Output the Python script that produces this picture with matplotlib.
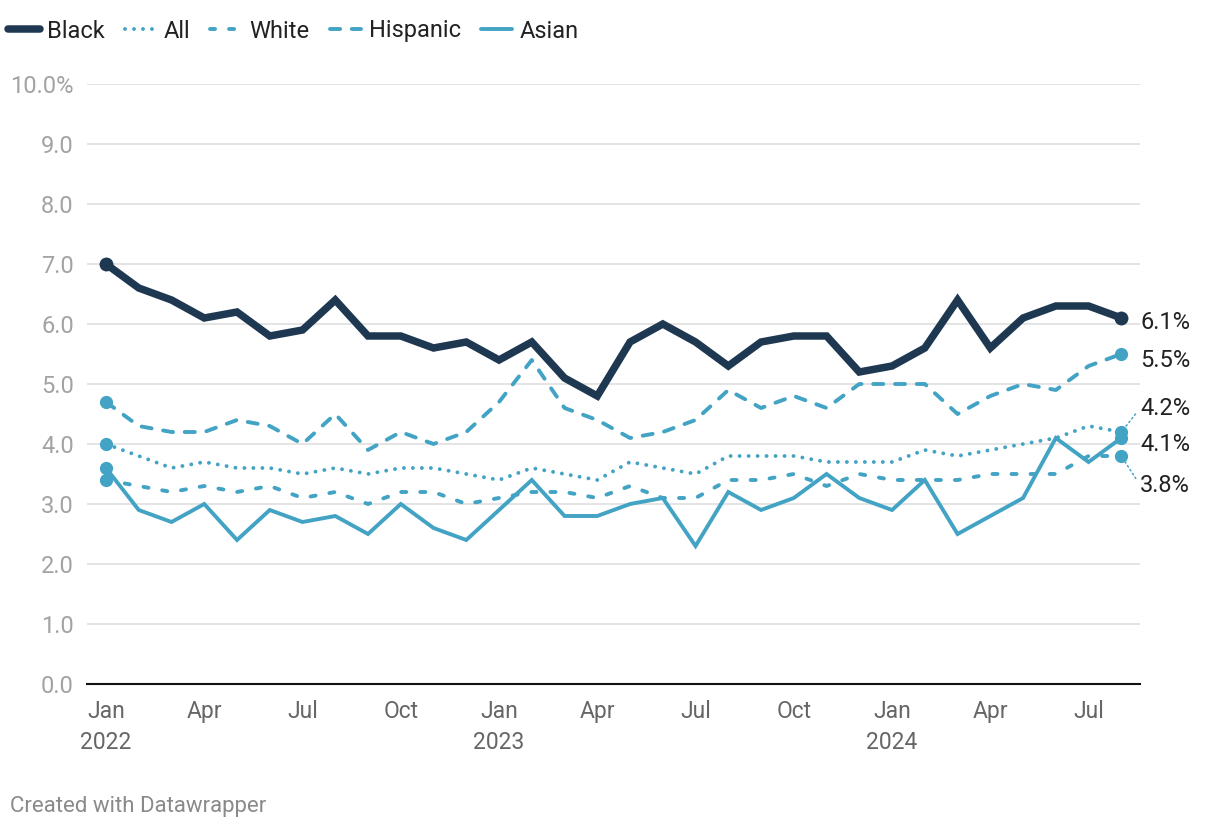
import numpy as np
import pandas as pd
import matplotlib
matplotlib.use("Agg")
import matplotlib.pyplot as plt

plt.rcParams['font.family'] = ['Roboto', 'DejaVu Sans']

#----------------------------------------------------------------------------------------#
# Data (unemployment rate, %, Jan 2022 - Aug 2024)

months = pd.date_range('2022-01-01', periods=32, freq='MS')

black = [7.0, 6.6, 6.4, 6.1, 6.2, 5.8, 5.9, 6.4, 5.8, 5.8, 5.6, 5.7,
         5.4, 5.7, 5.1, 4.8, 5.7, 6.0, 5.7, 5.3, 5.7, 5.8, 5.8, 5.2,
         5.3, 5.6, 6.4, 5.6, 6.1, 6.3, 6.3, 6.1]
all_ = [4.0, 3.8, 3.6, 3.7, 3.6, 3.6, 3.5, 3.6, 3.5, 3.6, 3.6, 3.5,
        3.4, 3.6, 3.5, 3.4, 3.7, 3.6, 3.5, 3.8, 3.8, 3.8, 3.7, 3.7,
        3.7, 3.9, 3.8, 3.9, 4.0, 4.1, 4.3, 4.2]
white = [3.4, 3.3, 3.2, 3.3, 3.2, 3.3, 3.1, 3.2, 3.0, 3.2, 3.2, 3.0,
         3.1, 3.2, 3.2, 3.1, 3.3, 3.1, 3.1, 3.4, 3.4, 3.5, 3.3, 3.5,
         3.4, 3.4, 3.4, 3.5, 3.5, 3.5, 3.8, 3.8]
hispanic = [4.7, 4.3, 4.2, 4.2, 4.4, 4.3, 4.0, 4.5, 3.9, 4.2, 4.0, 4.2,
            4.7, 5.4, 4.6, 4.4, 4.1, 4.2, 4.4, 4.9, 4.6, 4.8, 4.6, 5.0,
            5.0, 5.0, 4.5, 4.8, 5.0, 4.9, 5.3, 5.5]
asian = [3.6, 2.9, 2.7, 3.0, 2.4, 2.9, 2.7, 2.8, 2.5, 3.0, 2.6, 2.4,
         2.9, 3.4, 2.8, 2.8, 3.0, 3.1, 2.3, 3.2, 2.9, 3.1, 3.5, 3.1,
         2.9, 3.4, 2.5, 2.8, 3.1, 4.1, 3.7, 4.1]

yticks = np.arange(0, 11, 1)

#----------------------------------------------------------------------------------------#
# Styles

navy = '#1f3852'
teal = '#43a3c4'
lw = 2.8

styles = {
    'Black':    dict(color=navy, lw=5.4, ls='-', ms=10),
    'All':      dict(color=teal, lw=lw, ls=(0, (0.01, 2.3)), ms=9.5),
    'White':    dict(color=teal, lw=lw, ls=(0, (1.3, 3.6)), ms=9.5),
    'Hispanic': dict(color=teal, lw=lw, ls=(0, (2.6, 3.0)), ms=9.5),
    'Asian':    dict(color=teal, lw=lw, ls='-', ms=9.5),
}
series = {'Black': black, 'All': all_, 'White': white,
          'Hispanic': hispanic, 'Asian': asian}
# end label offsets (points)
label_dy = {'Black': -3, 'Hispanic': -5, 'All': 17, 'Asian': -5, 'White': -21}

#----------------------------------------------------------------------------------------#
# Plot

fig = plt.figure(figsize=(12.2, 8.3), dpi=100)
ax = fig.add_axes([87/1220, 1-684/830, (1140-87)/1220, 600/830])

x = np.arange(len(months))
handles = []
for name, vals in series.items():
    st = styles[name]
    h, = ax.plot(x, vals, color=st['color'], lw=st['lw'], ls=st['ls'],
                 solid_capstyle='round', dash_capstyle='round',
                 solid_joinstyle='miter', label=name, zorder=3, clip_on=False)
    handles.append(h)
    ax.plot([x[0], x[-1]], [vals[0], vals[-1]], 'o', color=st['color'],
            ms=st['ms'], mew=0, zorder=4, clip_on=False)
    dy = label_dy[name]
    arrow = None
    if abs(dy) > 10:
        arrow = dict(arrowstyle='-', color=teal, lw=1.1, ls=(0, (1, 2)),
                     shrinkA=2, shrinkB=5, relpos=(0, 0.5))
    ax.annotate('%.1f%%' % vals[-1], xy=(x[-1], vals[-1]),
                xytext=(13.5, dy), textcoords='offset points',
                ha='left', va='center', fontsize=17, color='#222222',
                arrowprops=arrow, annotation_clip=False)

ax.set_xlim(-0.58, 31.57)
ax.set_ylim(0, 10)

ax.set_yticks(yticks)
ax.set_yticklabels(['%.1f%%' % v if v == 10 else '%.1f' % v for v in yticks])
ax.grid(axis='y', color='#e2e2e2', lw=1.3)
ax.set_axisbelow(True)

xt = x[::3]
ax.set_xticks(xt)
ax.set_xticklabels([months[i].strftime('%b') + ('\n%d' % months[i].year if months[i].month == 1 else '')
                    for i in xt], linespacing=1.45, va='top')

ax.tick_params(axis='y', length=0, pad=9.5, labelsize=17, labelcolor='#a3a3a3')
ax.tick_params(axis='x', length=0, pad=11.5, labelsize=16.5, labelcolor='#666666')

for s in ['top', 'right', 'left']:
    ax.spines[s].set_visible(False)
ax.spines['bottom'].set_color('#111111')
ax.spines['bottom'].set_linewidth(1.5)
ax.spines['bottom'].set_zorder(5)

fig.legend(handles=handles, loc='center left', bbox_to_anchor=(8/1220, 1-31/830),
           ncol=5, frameon=False, fontsize=17, handlelength=1.35,
           handletextpad=0.3, columnspacing=0.85, borderaxespad=0, borderpad=0,
           labelcolor='#222222')

fig.text(10/1220, 1-806/830, 'Created with Datawrapper', fontsize=16,
         color='#8a8a8a', va='center', ha='left')

plt.savefig('out.png', dpi=100)
